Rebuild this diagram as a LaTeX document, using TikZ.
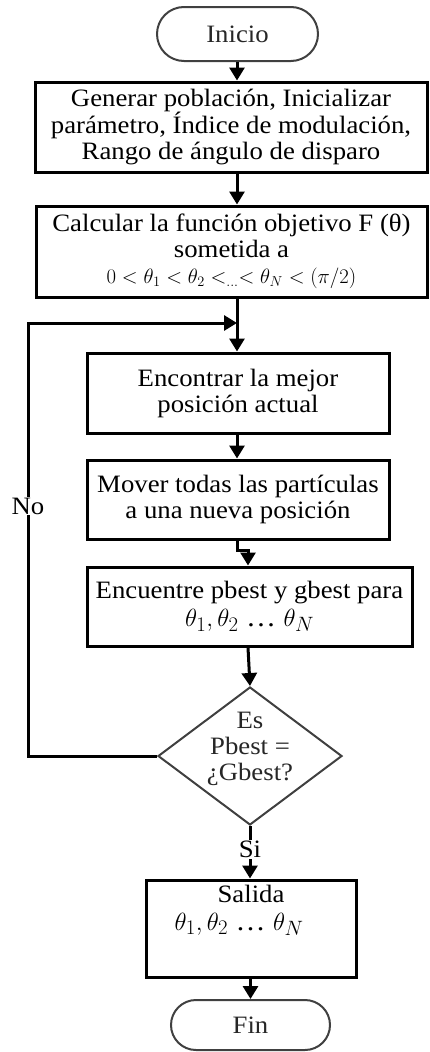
\documentclass[tikz,border=0pt]{standalone}
\usepackage{fontspec}
\setmainfont{Liberation Serif}[FakeStretch=1.07]
\usetikzlibrary{arrows.meta,shapes.geometric,shapes.misc}
\definecolor{termgray}{HTML}{404040}
\newcommand{\thetalist}{{\fontsize{28}{28}\selectfont $\theta_1,\theta_2$ … $\theta_N$}}
\begin{document}
\begin{tikzpicture}[x=1pt,y=-1pt,
  every node/.style={font=\fontsize{25}{26}\selectfont, align=center, inner sep=0pt},
  procbox/.style={draw=black, line width=3pt, rectangle},
  term/.style={draw=termgray, line width=2pt, rounded rectangle, text=termgray!60!black},
  decision/.style={draw=termgray, line width=2pt, diamond, text=termgray!60!black},
  arr/.style={line width=3pt, -{Triangle[width=15pt,length=13pt]}},
  ln/.style={line width=3pt},
  lbl/.style={fill=white, inner sep=1pt}]
\useasboundingbox (0,0) rectangle (429,1052);

\node[term, minimum width=161pt, minimum height=54pt] (ini) at (237.5,34) {Inicio};
\node[procbox, minimum width=392pt, minimum height=90pt] (b1) at (231,127)
  {Generar población, Inicializar\\ parámetro, Índice de modulación,\\ Rango de ángulo de disparo};
\node[procbox, minimum width=391pt, minimum height=91pt] (b2) at (231.5,251.5)
  {Calcular la función objetivo F (θ)\\ sometida a\\
   {\fontsize{22}{22}\selectfont $0<\theta_1<\theta_2<_{\dots}<\theta_N<(\pi/2)$}};
\node[procbox, minimum width=302pt, minimum height=80pt] (b3) at (238,393)
  {Encontrar la mejor\\ posición actual};
\node[procbox, minimum width=302pt, minimum height=79pt] (b4) at (238,499.5)
  {Mover todas las partículas\\ a una nueva posición};
\node[procbox, minimum width=325pt, minimum height=79pt] (b5) at (249.5,606.5)
  {Encuentre pbest y gbest para\\[2pt] \thetalist};
\node[decision, minimum width=184pt, minimum height=138pt] (dec) at (250,756)
  {\makebox[0pt]{\smash{\begin{tabular}{@{}c@{}}Es\\ Pbest =\\ ¿Gbest?\end{tabular}}}};
\node[procbox, minimum width=210pt, minimum height=97pt] (out) at (251,928.5)
  {Salida\\[2pt] \hspace*{-24pt}\thetalist\\[16pt] \mbox{}};
\node[term, minimum width=159pt, minimum height=50pt] (fin) at (250.5,1025) {Fin};

\coordinate (j) at (237,323);
\coordinate (lb) at (28,756);
\coordinate (lt) at (28,323);
\coordinate (m1) at (237,550);
\coordinate (m2) at (248,550);

\draw[arr] (ini.south -| j) -- (b1.north -| j);
\draw[arr] (b1.south -| j) -- (b2.north -| j);
\draw[arr] (b2.south -| j) -- (b3.north -| j);
\draw[arr] (b3.south -| j) -- (b4.north -| j);
\draw[arr] (b4.south -| m1) -- (m1) -- (m2) -- (m2 |- b5.north);
\draw[arr] (b5.south -| m2) -- (dec.north);
\draw[arr] (dec.west) -- (lb) -- (lt) -- (j);
\node[lbl] (no) at (28,506) {No};
\draw[arr] (dec.south) -- (out.north -| dec.south) node[pos=0.45, lbl] (si) {Si};
\draw[arr] (out.south -| fin.north) -- (fin.north);
\end{tikzpicture}
\end{document}
